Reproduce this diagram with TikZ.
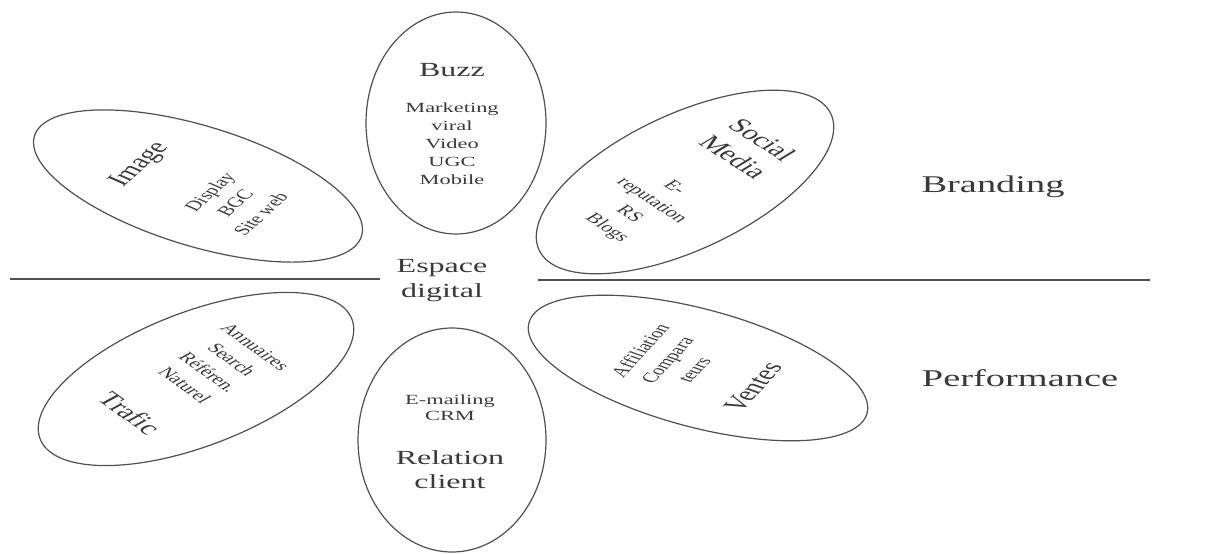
\documentclass[tikz,border=0pt]{standalone}
\usepackage{fontspec}
\setmainfont{Liberation Serif}
\usetikzlibrary{shapes.geometric}
\definecolor{linec}{HTML}{505050}
\definecolor{textc}{HTML}{3A3A3A}
\begin{document}
\begin{tikzpicture}[x=1pt,y=-1pt,
  oval/.style={ellipse, draw=linec, line width=1.2pt, inner sep=0pt},
  txt/.style={text=textc, align=center, inner sep=0pt, xscale=1.6},
  bigtxt/.style={txt, font=\fontsize{24}{28}\selectfont},
  midtxt/.style={txt, font=\fontsize{20}{24}\selectfont},
  smalltxt/.style={txt, font=\fontsize{14}{18}\selectfont},
  rottxt/.style={txt, font=\fontsize{14}{19.5}\selectfont},
  sep/.style={draw=linec, line width=1.3pt}]
\useasboundingbox (0,0) rectangle (1210,554);
\fill[white] (0,0) rectangle (1210,554);

% ellipses
\node[oval, minimum width=180pt, minimum height=222pt] (buzz) at (456,123) {};
\node[oval, minimum width=188pt, minimum height=224pt] (rel) at (452,440) {};
\node[oval, minimum width=342pt, minimum height=120pt, rotate=-17] (img) at (198,186) {};
\node[oval, minimum width=322pt, minimum height=136pt, rotate=25] (soc) at (685,182) {};
\node[oval, minimum width=334pt, minimum height=134pt, rotate=21] (traf) at (196,379) {};
\node[oval, minimum width=350pt, minimum height=118pt, rotate=-15] (vent) at (698,368) {};

% separator line
\coordinate (la) at (10,279);
\coordinate (lb) at (380,279);
\coordinate (ra) at (538,280);
\coordinate (rb) at (1150,280);
\draw[sep] (la) -- (lb);
\draw[sep] (ra) -- (rb);

% Buzz
\node[midtxt] (buzzt) at (452,70) {Buzz};
\node[smalltxt] (buzzl) at (452,144) {Marketing\\viral\\Video\\UGC\\Mobile};

% Relation client
\node[smalltxt, font=\fontsize{14}{16}\selectfont] (relt) at (450,408) {E-mailing\\CRM};
\node[midtxt] (rell) at (450,470) {Relation\\client};

% Espace digital
\node[midtxt, font=\fontsize{20}{25}\selectfont] (esp) at (442,281) {Espace\\digital};

% Image
\node[midtxt, rotate=55] (imgt) at (140,165) {Image};
\node[rottxt, rotate=55] (imgl) at (235,203) {Display\\BGC\\Site web};

% Social Media
\node[midtxt, font=\fontsize{20}{25}\selectfont, rotate=-46] (soct) at (748,148) {Social\\Media};
\node[rottxt, rotate=-46] (socl) at (640,208) {E-\\reputation\\RS\\Blogs};

% Trafic
\node[rottxt, rotate=-49] (trafl) at (220,366) {Annuaires\\Search\\Référen.\\Naturel};
\node[midtxt, rotate=-49] (traft) at (130,413) {Trafic};

% Ventes
\node[rottxt, rotate=60] (ventl) at (667,360) {Affiliation\\Compara\\teurs};
\node[midtxt, rotate=60] (ventt) at (753,387) {Ventes};

% side labels
\node[bigtxt] (brand) at (993,187) {Branding};
\node[bigtxt] (perf) at (1020,378) {Performance};
\end{tikzpicture}
\end{document}
